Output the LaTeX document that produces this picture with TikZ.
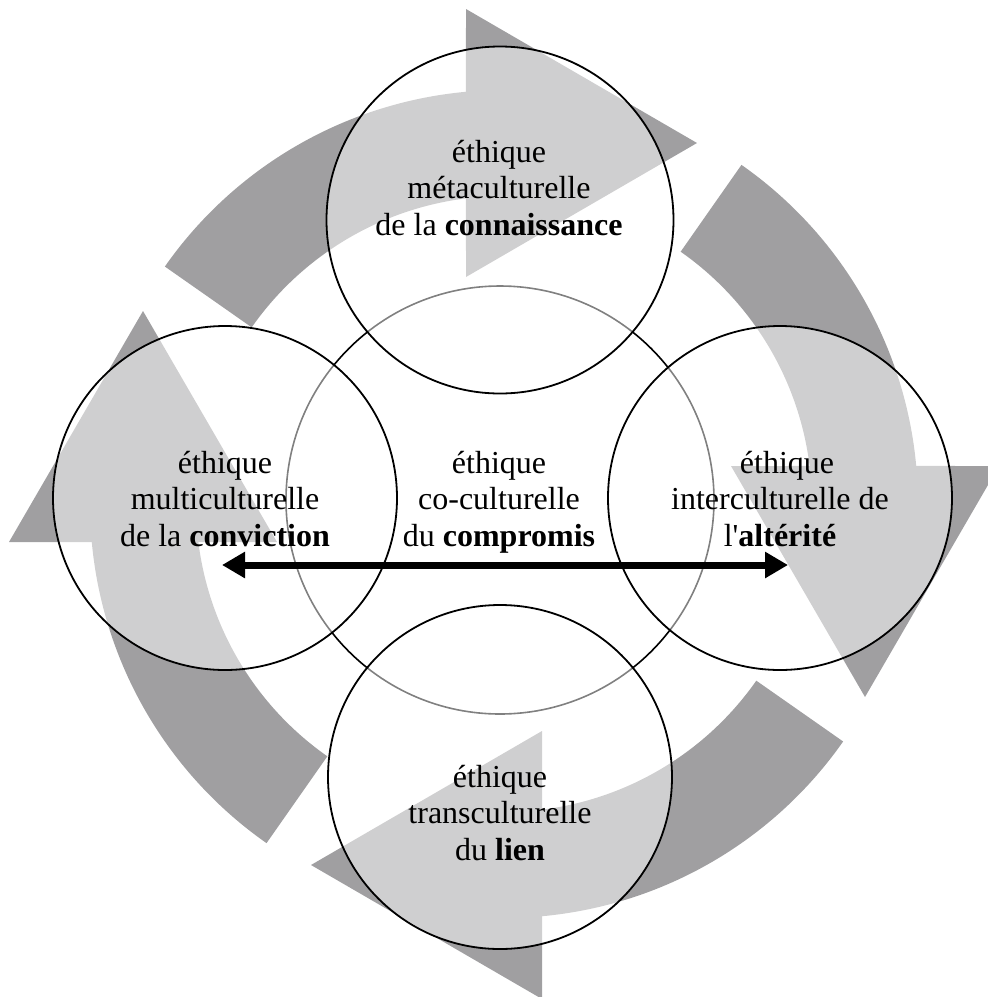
\documentclass[tikz,border=0pt]{standalone}
\usepackage{fontspec}
\setmainfont{Liberation Serif}
\newfontfamily\lserif{Liberation Serif}
\usetikzlibrary{arrows.meta}
\definecolor{arrowgray}{RGB}{160,159,161}
\begin{document}
\begin{tikzpicture}[x=1pt,y=1pt,
  ring/.style={circle, draw=black, line width=1.8pt, fill=white, fill opacity=0.5, inner sep=0pt, minimum size=344pt},
  midring/.style={circle, draw=black, line width=1.6pt, inner sep=0pt, minimum size=428pt},
  txt/.style={anchor=base, inner sep=0pt, font=\lserif\fontsize{32}{36.8}\selectfont},
  dbl/.style={line width=7pt, {Triangle[length=23pt,width=25pt]}-{Triangle[length=23pt,width=25pt]}}]
\useasboundingbox (0,0) rectangle (988,-997);
% circular arrows
\begin{scope}[shift={(504,-504)}]
\foreach \r in {0,-90,-180,-270}{
  \fill[arrowgray, rotate=\r] (145:414) arc[start angle=145,end angle=95.27,radius=414]
    -- (-38,495) -- (193,361) -- (-38,227) -- (97.09:308)
    arc[start angle=97.09,end angle=145,radius=308] -- cycle;
}
\end{scope}
% circles
\node[midring] (mid) at (500,-500) {};
\node[ring, minimum size=347pt] (top) at (500,-220) {};
\node[ring] (left) at (225,-498) {};
\node[ring] (right) at (780,-498) {};
\node[ring] (bottom) at (500,-777) {};
% texts
\node[txt] (ttop) at (499,-162) {\begin{tabular}[t]{@{}c@{}}éthique\\métaculturelle\\de la \textbf{connaissance}\end{tabular}};
\node[txt] (tleft) at (225,-473) {\begin{tabular}[t]{@{}c@{}}éthique\\multiculturelle\\de la \textbf{conviction}\end{tabular}};
\node[txt] (tmid) at (499,-473) {\begin{tabular}[t]{@{}c@{}}éthique\\co-culturelle\\du \textbf{compromis}\end{tabular}};
\node[txt] (tright) at (780,-473) {\begin{tabular}[t]{@{}c@{}}\hspace*{14pt}éthique\\interculturelle de\\l'\textbf{altérité}\end{tabular}};
\node[txt] (tbottom) at (500,-787) {\begin{tabular}[t]{@{}c@{}}éthique\\transculturelle\\du \textbf{lien}\end{tabular}};
% double arrow
\coordinate (aL) at (222,-565);
\coordinate (aR) at (788,-565);
\draw[dbl] (aL) -- (aR);
\end{tikzpicture}
\end{document}
